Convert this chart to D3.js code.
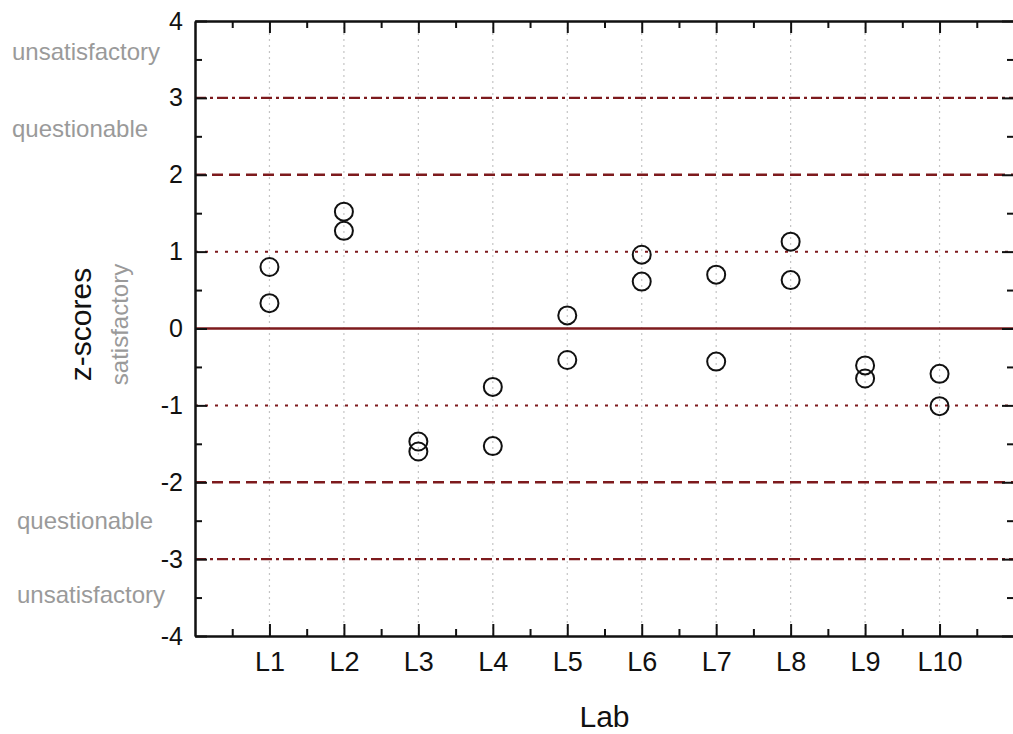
<!DOCTYPE html>
<html>
<head>
<meta charset="utf-8">
<script src="https://cdn.jsdelivr.net/npm/d3@7"></script>
<style>
  body { margin: 0; background: #fff; }
  svg { font-family: "Liberation Sans", Arial, sans-serif; }
</style>
</head>
<body>
<div id="chart"></div>
<script>
// chart values
const labs = ["L1", "L2", "L3", "L4", "L5", "L6", "L7", "L8", "L9", "L10"];
const zFirst = [0.80, 1.52, -1.47, -0.76, 0.17, 0.96, 0.70, 1.13, -0.48, -0.59];
const zSecond = [0.33, 1.27, -1.60, -1.53, -0.41, 0.61, -0.43, 0.63, -0.65, -1.01];
const yTicks = [4, 3, 2, 1, 0, -1, -2, -3, -4];
const refLines = [
  { v: 0, kind: "solid" },
  { v: 1, kind: "dot" }, { v: -1, kind: "dot" },
  { v: 2, kind: "dash" }, { v: -2, kind: "dash" },
  { v: 3, kind: "dashdot" }, { v: -3, kind: "dashdot" }
];
const zoneLabels = [
  { text: "unsatisfactory", v: 3.5, dy: 1, dx: 12 },
  { text: "questionable", v: 2.5, dy: 1, dx: 12 },
  { text: "questionable", v: -2.5, dy: 8, dx: 17 },
  { text: "unsatisfactory", v: -3.5, dy: 5, dx: 17 }
];

const width = 1013;
const height = 734;
const margin = { top: 21, right: -1, bottom: 98, left: 195 };
const lineColor = "#7d1a1d";

const svg = d3.select("#chart")
  .append("svg")
  .attr("width", width)
  .attr("height", height);

const x = d3.scaleLinear()
  .domain([0, labs.length + 1])
  .range([margin.left, width - margin.right]);

const y = d3.scaleLinear()
  .domain([-4, 4])
  .range([height - margin.bottom, margin.top]);

// vertical grid
svg.append("g")
  .selectAll("line")
  .data(labs)
  .join("line")
    .attr("x1", (d, i) => x(i + 1))
    .attr("x2", (d, i) => x(i + 1))
    .attr("y1", y(4))
    .attr("y2", y(-4))
    .attr("stroke", "#c4c4c4")
    .attr("stroke-width", 1.2)
    .attr("stroke-dasharray", "2,4");

// reference lines
const dashes = { solid: null, dot: "3,7", dash: "11,6", dashdot: "11,4,3,4" };
svg.append("g")
  .selectAll("line")
  .data(refLines)
  .join("line")
    .attr("x1", x(0))
    .attr("x2", x(11))
    .attr("y1", d => y(d.v))
    .attr("y2", d => y(d.v))
    .attr("stroke", lineColor)
    .attr("stroke-width", d => d.kind === "dot" ? 2 : 2.4)
    .attr("stroke-dasharray", d => dashes[d.kind]);

// axes
function styleAxis(g) {
  g.select(".domain").attr("stroke", "#111").attr("stroke-width", 2);
  g.selectAll(".tick line").attr("stroke", "#111").attr("stroke-width", 2);
  g.selectAll("text").attr("fill", "#111");
}

const yAxis = d3.axisLeft(y).tickValues(yTicks).tickFormat(d => String(d))
  .tickSizeInner(-12).tickSizeOuter(0).tickPadding(12);
svg.append("g")
  .attr("transform", `translate(${x(0)},0)`)
  .call(yAxis)
  .call(styleAxis)
  .call(g => g.selectAll("text").attr("font-size", 25).attr("font-family", "Liberation Sans, Arial, sans-serif"));

svg.append("g")
  .attr("transform", `translate(${x(0)},0)`)
  .call(d3.axisLeft(y).tickValues(d3.range(-3.5, 4, 1)).tickFormat("").tickSizeInner(-7).tickSizeOuter(0))
  .call(styleAxis);

svg.append("g")
  .attr("transform", `translate(${x(11)},0)`)
  .call(d3.axisRight(y).tickValues(yTicks).tickFormat("").tickSizeInner(-12).tickSizeOuter(0))
  .call(styleAxis);
svg.append("g")
  .attr("transform", `translate(${x(11)},0)`)
  .call(d3.axisRight(y).tickValues(d3.range(-3.5, 4, 1)).tickFormat("").tickSizeInner(-7).tickSizeOuter(0))
  .call(styleAxis);

const xAxis = d3.axisBottom(x).tickValues(d3.range(1, labs.length + 1))
  .tickFormat(d => labs[d - 1]).tickSizeInner(-12).tickSizeOuter(0).tickPadding(16);
svg.append("g")
  .attr("transform", `translate(0,${y(-4)})`)
  .call(xAxis)
  .call(styleAxis)
  .call(g => g.selectAll("text").attr("font-size", 27).attr("font-family", "Liberation Sans, Arial, sans-serif"));
svg.append("g")
  .attr("transform", `translate(0,${y(-4)})`)
  .call(d3.axisBottom(x).tickValues(d3.range(0.5, 11, 1)).tickFormat("").tickSizeInner(-7).tickSizeOuter(0))
  .call(styleAxis);

svg.append("g")
  .attr("transform", `translate(0,${y(4)})`)
  .call(d3.axisTop(x).tickValues(d3.range(1, labs.length + 1)).tickFormat("").tickSizeInner(-12).tickSizeOuter(0))
  .call(styleAxis);
svg.append("g")
  .attr("transform", `translate(0,${y(4)})`)
  .call(d3.axisTop(x).tickValues(d3.range(0.5, 11, 1)).tickFormat("").tickSizeInner(-7).tickSizeOuter(0))
  .call(styleAxis);

// points
const points = labs.flatMap((lab, i) => [
  { i: i + 1, v: zFirst[i] },
  { i: i + 1, v: zSecond[i] }
]);
svg.append("g")
  .selectAll("circle")
  .data(points)
  .join("circle")
    .attr("cx", d => x(d.i))
    .attr("cy", d => y(d.v))
    .attr("r", 9)
    .attr("fill", "none")
    .attr("stroke", "#111")
    .attr("stroke-width", 2);

// zone labels
svg.append("g")
  .selectAll("text")
  .data(zoneLabels)
  .join("text")
    .attr("x", d => d.dx)
    .attr("y", d => y(d.v) + d.dy)
    .attr("font-size", 24)
    .attr("fill", "#9a9a9a")
    .text(d => d.text);

svg.append("text")
  .attr("transform", `translate(128,${y(0) - 4}) rotate(-90)`)
  .attr("text-anchor", "middle")
  .attr("font-size", 24)
  .attr("fill", "#9a9a9a")
  .text("satisfactory");

svg.append("text")
  .attr("transform", `translate(91,${y(0) - 4}) rotate(-90)`)
  .attr("text-anchor", "middle")
  .attr("font-size", 30)
  .attr("fill", "#111")
  .text("z-scores");

svg.append("text")
  .attr("x", (x(0) + x(11)) / 2)
  .attr("y", 727)
  .attr("text-anchor", "middle")
  .attr("font-size", 30)
  .attr("fill", "#111")
  .text("Lab");
</script>
</body>
</html>
